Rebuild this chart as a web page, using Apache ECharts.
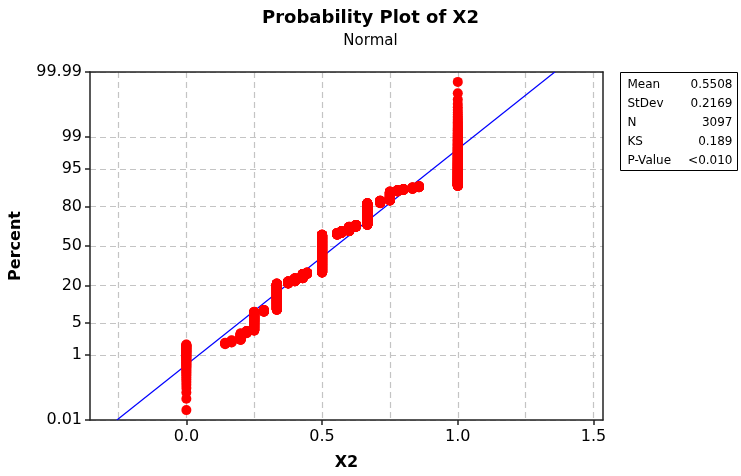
<!DOCTYPE html>
<html>
<head>
<meta charset="utf-8">
<title>Probability Plot of X2</title>
<script src="https://cdn.jsdelivr.net/npm/echarts@6/dist/echarts.min.js"></script>
<style>
  html, body { margin: 0; padding: 0; background: #ffffff; }
  #chart { width: 741px; height: 476px; }
</style>
</head>
<body>
<div id="chart"></div>
<script>
// Distinct observed values of X2 and the number of observations at each value
const xValues = [0, 0.1429, 0.1667, 0.2, 0.2222, 0.25, 0.2857, 0.3333, 0.375, 0.4, 0.4286, 0.4444,
                 0.5, 0.5556, 0.5714, 0.6, 0.625, 0.6667, 0.7143, 0.75, 0.7778, 0.8, 0.8333, 0.8571, 1];
const counts = [55, 5, 8, 28, 12, 139, 19, 387, 43, 62, 93, 31,
                963, 43, 46, 108, 46, 452, 43, 136, 19, 15, 19, 15, 310];

// Probability-scale ticks (percent) and their labels
const percentTicks = [0.01, 1, 5, 20, 50, 80, 95, 99, 99.99];
const percentLabels = ['0.01', '1', '5', '20', '50', '80', '95', '99', '99.99'];

// X axis ticks, labels and grid positions
const xTicks = [0, 0.5, 1, 1.5];
const xTickLabels = ['0.0', '0.5', '1.0', '1.5'];
const xGridValues = [-0.25, 0, 0.25, 0.5, 0.75, 1, 1.25, 1.5];

// Summary statistics of the fitted normal distribution
const statNames = ['Mean', 'StDev', 'N', 'KS', 'P-Value'];
const statValues = ['0.5508', '0.2169', '3097', '0.189', '<0.010'];
const fitMean = 0.5508;
const fitSd = 0.2169;

// Inverse of the standard normal CDF (Acklam's rational approximation)
function normInv(p) {
  const a = [-3.969683028665376e+01, 2.209460984245205e+02, -2.759285104469687e+02,
             1.383577518672690e+02, -3.066479806614716e+01, 2.506628277459239e+00];
  const b = [-5.447609879822406e+01, 1.615858368580409e+02, -1.556989798598866e+02,
             6.680131188771972e+01, -1.328068155288572e+01];
  const c = [-7.784894002430293e-03, -3.223964580411365e-01, -2.400758277161838e+00,
             -2.549732539343734e+00, 4.374664141464968e+00, 2.938163982698783e+00];
  const d = [7.784695709041462e-03, 3.224671290700398e-01, 2.445134137142996e+00,
             3.754408661907416e+00];
  const pLow = 0.02425, pHigh = 1 - pLow;
  let q, r;
  if (p < pLow) {
    q = Math.sqrt(-2 * Math.log(p));
    return (((((c[0] * q + c[1]) * q + c[2]) * q + c[3]) * q + c[4]) * q + c[5]) /
           ((((d[0] * q + d[1]) * q + d[2]) * q + d[3]) * q + 1);
  }
  if (p > pHigh) {
    q = Math.sqrt(-2 * Math.log(1 - p));
    return -(((((c[0] * q + c[1]) * q + c[2]) * q + c[3]) * q + c[4]) * q + c[5]) /
            ((((d[0] * q + d[1]) * q + d[2]) * q + d[3]) * q + 1);
  }
  q = p - 0.5;
  r = q * q;
  return (((((a[0] * r + a[1]) * r + a[2]) * r + a[3]) * r + a[4]) * r + a[5]) * q /
         (((((b[0] * r + b[1]) * r + b[2]) * r + b[3]) * r + b[4]) * r + 1);
}

// The vertical axis is in normal-score units; ticks sit at the z of each percent
const zTicks = percentTicks.map(p => normInv(p / 100));
const yMin = zTicks[0];
const yMax = zTicks[zTicks.length - 1];

// Plotting positions: median ranks (i - 0.3) / (n + 0.4) of the sorted sample
const nTotal = counts.reduce((s, c) => s + c, 0);
const points = [];
let rank = 0;
xValues.forEach((v, k) => {
  for (let j = 0; j < counts[k]; j++) {
    rank++;
    points.push([v, normInv((rank - 0.3) / (nTotal + 0.4))]);
  }
});

// Fitted normal line across the full probability range
const fitLine = [
  [fitMean + fitSd * yMin, yMin],
  [fitMean + fitSd * yMax, yMax]
];

const FONT = '"DejaVu Sans", Verdana, sans-serif';
const AXIS_COLOR = '#222222';
const GRID_LINE = { show: true, lineStyle: { color: '#c4c4c4', width: 1.2, type: [6, 4] } };

function nearestLabel(value, ticks, labels) {
  let best = 0;
  for (let i = 1; i < ticks.length; i++) {
    if (Math.abs(ticks[i] - value) < Math.abs(ticks[best] - value)) best = i;
  }
  return labels[best];
}

const chart = echarts.init(document.getElementById('chart'), null, { renderer: 'canvas' });

// Rows of the statistics box: names on the left, values right-aligned
const statRows = [];
statNames.forEach((name, i) => {
  statRows.push({
    type: 'text', x: 7, y: 6 + i * 19,
    style: { text: name, fill: '#000', font: '12px ' + FONT }
  });
  statRows.push({
    type: 'text', x: 112, y: 6 + i * 19,
    style: { text: statValues[i], fill: '#000', font: '12px ' + FONT, align: 'right' }
  });
});

chart.setOption({
  animation: false,
  backgroundColor: '#ffffff',
  title: {
    text: 'Probability Plot of X2',
    subtext: 'Normal',
    left: 'center',
    top: 4,
    itemGap: 7,
    textStyle: { fontFamily: FONT, fontSize: 18, fontWeight: 'bold', color: '#000' },
    subtextStyle: { fontFamily: FONT, fontSize: 15, color: '#000' }
  },
  grid: { left: 88, right: 138, top: 72, bottom: 52, containLabel: false },
  xAxis: [
    {
      type: 'value',
      min: -0.355,
      max: 1.535,
      name: 'X2',
      nameLocation: 'middle',
      nameGap: 35,
      nameTextStyle: { fontFamily: FONT, fontSize: 16, fontWeight: 'bold', color: '#000' },
      axisLine: { show: true, onZero: false, lineStyle: { color: AXIS_COLOR, width: 1.5 } },
      axisTick: { show: true, length: 5, customValues: xTicks, lineStyle: { color: AXIS_COLOR, width: 1.5 } },
      axisLabel: {
        customValues: xTicks,
        margin: 9,
        fontFamily: FONT, fontSize: 16, color: '#000',
        formatter: v => nearestLabel(v, xTicks, xTickLabels)
      },
      splitLine: { show: false }
    },
    {
      type: 'value',
      position: 'top',
      min: -0.355,
      max: 1.535,
      axisLine: { show: true, onZero: false, lineStyle: { color: AXIS_COLOR, width: 1.5 } },
      axisTick: { show: false, customValues: xGridValues },
      axisLabel: { show: false },
      splitLine: GRID_LINE
    }
  ],
  yAxis: [
    {
      type: 'value',
      min: yMin,
      max: yMax,
      name: 'Percent',
      nameLocation: 'middle',
      nameGap: 66,
      nameTextStyle: { fontFamily: FONT, fontSize: 16, fontWeight: 'bold', color: '#000' },
      axisLine: { show: true, onZero: false, lineStyle: { color: AXIS_COLOR, width: 1.5 } },
      axisTick: { show: true, length: 5, customValues: zTicks, lineStyle: { color: AXIS_COLOR, width: 1.5 } },
      axisLabel: {
        customValues: zTicks,
        margin: 8,
        fontFamily: FONT, fontSize: 16, color: '#000',
        formatter: v => nearestLabel(v, zTicks, percentLabels)
      },
      splitLine: GRID_LINE
    },
    {
      type: 'value',
      position: 'right',
      min: yMin,
      max: yMax,
      axisLine: { show: true, onZero: false, lineStyle: { color: AXIS_COLOR, width: 1.5 } },
      axisTick: { show: false },
      axisLabel: { show: false },
      splitLine: { show: false }
    }
  ],
  series: [
    {
      name: 'Fit',
      type: 'line',
      data: fitLine,
      symbol: 'none',
      silent: true,
      z: 2,
      lineStyle: { color: '#0000ff', width: 1.2 }
    },
    {
      name: 'X2',
      type: 'scatter',
      data: points,
      symbol: 'circle',
      symbolSize: 10,
      silent: true,
      z: 3,
      itemStyle: { color: '#ff0000', opacity: 1 }
    }
  ],
  graphic: [
    {
      type: 'group',
      left: 620,
      top: 72,
      children: [
        {
          type: 'rect',
          shape: { x: 0, y: 0, width: 117, height: 98 },
          style: { fill: '#ffffff', stroke: '#000000', lineWidth: 1 }
        }
      ].concat(statRows)
    }
  ]
});
</script>
</body>
</html>
